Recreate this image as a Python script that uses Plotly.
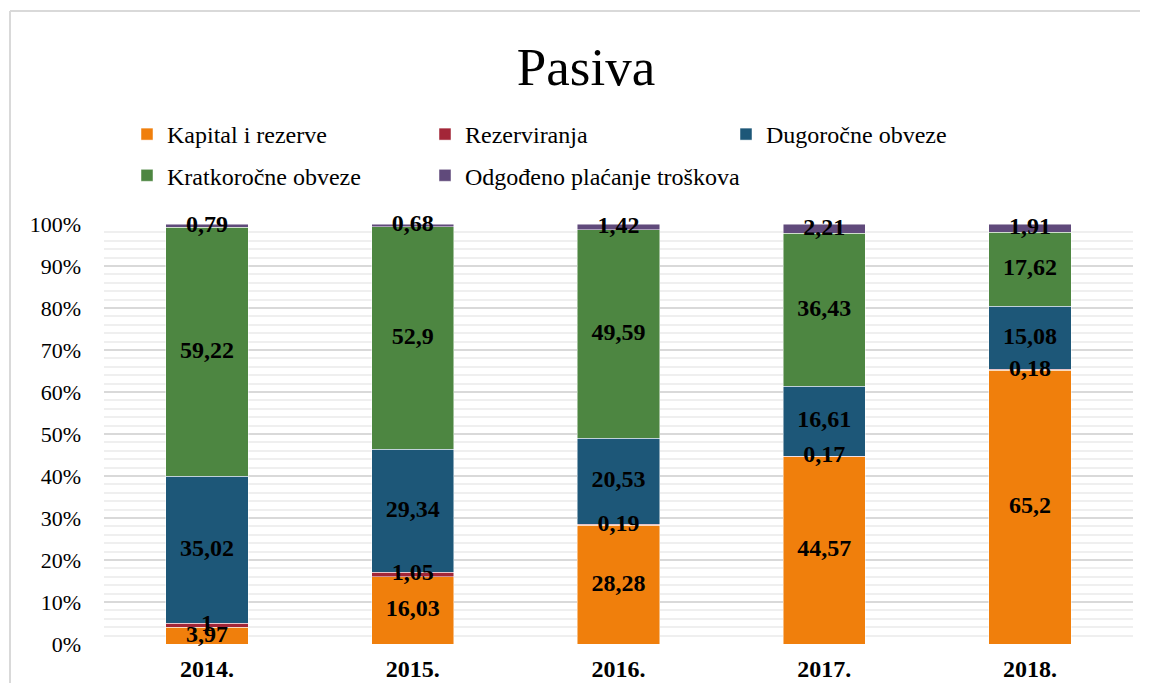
import plotly.graph_objects as go

years = ["2014.", "2015.", "2016.", "2017.", "2018."]
kapital = [3.97, 16.03, 28.28, 44.57, 65.2]
rezerviranja = [1, 1.05, 0.19, 0.17, 0.18]
dugorocne = [35.02, 29.34, 20.53, 16.61, 15.08]
kratkorocne = [59.22, 52.9, 49.59, 36.43, 17.62]
odgodeno = [0.79, 0.68, 1.42, 2.21, 1.91]

series = [
    ("Kapital i rezerve", kapital, "#F07F0C", "legend"),
    ("Rezerviranja", rezerviranja, "#A32638", "legend2"),
    ("Dugoročne obveze", dugorocne, "#1D5778", "legend3"),
    ("Kratkoročne obveze", kratkorocne, "#4D8641", "legend"),
    ("Odgođeno plaćanje troškova", odgodeno, "#604A7B", "legend2"),
]

FONT = "Liberation Serif, Times New Roman, serif"

fig = go.Figure()
totals = [sum(s[1][i] for s in series) for i in range(len(years))]
cum = [0.0] * len(years)
label_x, label_y, label_t = [], [], []
for idx, (name, vals, color, leg) in enumerate(series):
    fig.add_trace(go.Bar(
        x=years, y=vals, name=name,
        marker=dict(color=color, line=dict(color="rgba(255,255,255,0.6)", width=0.8)),
        legend=leg, legendgroup=name, hoverinfo="skip",
    ))
    for i, v in enumerate(vals):
        label_x.append(years[i])
        label_y.append((cum[i] + v / 2) / totals[i] * 100)
        label_t.append(f"{v:g}".replace(".", ","))
        cum[i] += v

fig.add_trace(go.Scatter(
    x=label_x, y=label_y, text=label_t, mode="text", showlegend=False, hoverinfo="skip",
    cliponaxis=False,
    textfont=dict(family=FONT, size=24, color="black", weight="bold"),
))

OFF = 8  # page body margin
W, H = 1152 - 2 * OFF, 695 - 2 * OFF - 4
L = 104 - OFF
R = W - (1133 - OFF)
T = 224 - OFF
B = H - (644 - OFF)
pw, ph = W - L - R, H - T - B

def px_x(p):
    return (p - OFF - L) / pw

def px_y(p):
    return (H - B - (p - OFF)) / ph

legend_common = dict(
    orientation="v", font=dict(family=FONT, size=24, color="black"),
    bgcolor="rgba(0,0,0,0)", traceorder="grouped", tracegroupgap=7,
    xanchor="left", yanchor="top",
)
leg_top = px_y(112)

fig.update_layout(
    width=W, height=H,
    margin=dict(l=L, r=R, t=T, b=B, autoexpand=False),
    paper_bgcolor="white", plot_bgcolor="white",
    barmode="stack", barnorm="percent", bargap=0.6,
    title=dict(text="Pasiva", x=(586 - OFF) / W, xanchor="center", y=1 - (66 - OFF) / H, yanchor="middle",
               font=dict(family=FONT, size=53, color="black")),
    legend=dict(x=px_x(127), y=leg_top, **legend_common),
    legend2=dict(x=px_x(425), y=leg_top, **legend_common),
    legend3=dict(x=px_x(726), y=leg_top, **legend_common),
    showlegend=True,
)
fig.update_yaxes(
    range=[0, 100], dtick=10, ticksuffix="%", showgrid=True, gridcolor="#d9d9d9", gridwidth=2,
    minor=dict(dtick=2, showgrid=True, gridcolor="#efefef", gridwidth=2),
    zeroline=False, showline=False, ticklabelstandoff=22, automargin=False,
    tickfont=dict(family=FONT, size=22, color="black"),
)
fig.update_xaxes(
    showline=False, showgrid=False, ticks="", ticklabelstandoff=8, automargin=False,
    tickfont=dict(family=FONT, size=24, color="black", weight="bold"),
)

border = dict(color="#d9d9d9", width=2)
fig.add_shape(type="line", xref="paper", yref="paper", x0=px_x(10), x1=px_x(10),
              y0=px_y(11), y1=px_y(720), line=border)
fig.add_shape(type="line", xref="paper", yref="paper", x0=px_x(10), x1=px_x(1140),
              y0=px_y(11), y1=px_y(11), line=border)

fig.write_html(
    "out.html",
    post_script="document.body.style.overflow='hidden';document.documentElement.style.overflow='hidden';",
)
